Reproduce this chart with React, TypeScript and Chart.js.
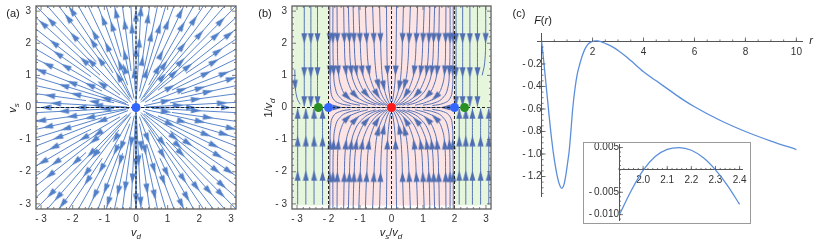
import React, { useEffect, useRef } from 'react';
import { Chart, registerables } from 'chart.js';

Chart.register(...registerables);

const FONT = "'Liberation Sans', Arial, Helvetica, sans-serif";
Chart.defaults.font.family = FONT;
const TICK_COLOR = '#333333';
const FRAME_COLOR = '#5e5e5e';
const STREAM_A = '#5180c8';
const STREAM_B = '#4f6db2';
const CURVE = '#5b8fdb';
const DASH = '#1e1e1e';

// ---------- shared frame (panels a, b) ----------
const frameMin = -3.16;
const frameMax = 3.16;
const frameTickValues = [-3, -2, -1, 0, 1, 2, 3];
const frameTickLabels = ['- 3', '- 2', '- 1', '0', '1', '2', '3'];
const frameMinorStep = 0.2;

// ---------- panel (a): radial stream lines ----------
// end points along the right edge (x = frame edge) for the first octant
const raysEdgeA = [0.16, 0.43, 0.68, 0.94, 1.2, 1.51, 1.82, 2.13, 2.44, 2.8];
// fraction of the ray where the stream line begins
const raysStartA = [0.1, 0.34, 0.08, 0.45, 0.16, 0.36, 0.09, 0.5, 0.22, 0.07];
// fractions of the ray where arrowheads sit
const raysArrowA = [[0.42, 0.86], [0.6], [0.3, 0.72], [0.64, 0.95], [0.46, 0.88], [0.7], [0.34, 0.78], [0.82], [0.52, 0.93], [0.38, 0.8]];
const diagStartA = 0.05;
const diagArrowA = [0.45, 0.85];
const axisStartA = 0.06;
const axisArrowA = [0.55, 0.9];
const octantsA = [[1, 0, 0, 1], [0, 1, 1, 0], [0, -1, 1, 0], [-1, 0, 0, 1], [-1, 0, 0, -1], [0, -1, -1, 0], [0, 1, -1, 0], [1, 0, 0, -1]];
const diagDirsA = [[1, 1], [-1, 1], [-1, -1], [1, -1]];
const axisDirsA = [[1, 0], [0, 1], [-1, 0], [0, -1]];

// ---------- panel (b) ----------
const regionEdgesB = [-3.12, -2, 2, 3.12];
const regionColorsB = ['#e6f6dc', '#fde4e4', '#e6f6dc'];
const regionTopB = 3.16;
const regionBottomB = -3.05;
const separatrixB = [-2, 2];
const fixedUB = [-2.32, -2, 0, 2, 2.32];
const fixedColorsB = ['#2a8f22', '#3366ff', '#ff1a1a', '#3366ff', '#2a8f22'];

// pink-region stream lines, upper-left quadrant, in flow order (u, 1/v_d)
const pinkCurvesTL = [
  [[-1.96, 3.16], [-1.96, 2.16], [-1.95, 1.15], [-1.93, 0.55], [-1.85, 0.27], [-1.65, 0.13], [-1.3, 0.06]],
  [[-1.86, 3.16], [-1.86, 2.16], [-1.84, 1.15], [-1.78, 0.58], [-1.63, 0.3], [-1.38, 0.15], [-1.0, 0.07]],
  [[-1.73, 3.16], [-1.72, 2.16], [-1.69, 1.15], [-1.59, 0.62], [-1.4, 0.33], [-1.12, 0.17], [-0.75, 0.07]],
  [[-1.52, 3.16], [-1.5, 2.16], [-1.45, 1.15], [-1.34, 0.68], [-1.15, 0.38], [-0.85, 0.18], [-0.5, 0.07]],
  [[-1.37, 3.16], [-1.34, 2.16], [-1.28, 1.15], [-1.16, 0.7], [-0.96, 0.4], [-0.68, 0.19], [-0.35, 0.07]],
  [[-1.22, 3.16], [-1.19, 2.16], [-1.12, 1.15], [-0.99, 0.72], [-0.8, 0.42], [-0.54, 0.2], [-0.25, 0.07]],
  [[-1.04, 3.16], [-1.0, 2.16], [-0.93, 1.15], [-0.8, 0.72], [-0.62, 0.42], [-0.4, 0.2], [-0.16, 0.06]],
  [[-0.83, 3.16], [-0.79, 2.16], [-0.72, 1.15], [-0.61, 0.72], [-0.46, 0.42], [-0.28, 0.19], [-0.1, 0.05]],
  [[-0.6, 3.16], [-0.56, 2.16], [-0.5, 1.15], [-0.42, 0.72], [-0.31, 0.4], [-0.17, 0.17], [-0.05, 0.04]],
  [[-0.38, 3.16], [-0.35, 2.16], [-0.31, 1.15], [-0.25, 0.68], [-0.16, 0.33], [-0.06, 0.1]],
  [[-0.16, 3.16], [-0.15, 2.16], [-0.13, 1.15], [-0.09, 0.6], [-0.03, 0.18]],
];
const pinkArrowsTL = [[1, 2], [1, 2], [1, 2, 4], [1, 2, 4], [1, 2], [1, 2, 4], [1, 2], [1, 2, 4], [1, 3], [1, 3], [2]];
const quadrantsB = [[1, 1], [-1, 1], [1, -1], [-1, -1]];
const axisFlowLeftB = [[-1.96, 0], [-1.72, 0], [-1.0, 0], [-0.1, 0]];
const axisFlowArrowsB = [1];
const greenTopStops = [3.16, 2.16, 1.1, 0.2, 0.04];
const greenBottomStops = [-3.02, -2.13, -1.05, -0.2, -0.04];
const greenArrowIdx = [1, 2, 3];
const greenLeftTopU = [-2.77, -2.56, -2.35];
const greenLeftBottomU = [-2.98, -2.72, -2.46, -2.19];
const greenRightTopU = [2.05, 2.26, 2.49, 2.73];
const greenRightBottomU = [2.15, 2.36, 2.57, 2.83, 3.09];
const edgeLeftTopB = [[-3.07, 1.18], [-3.06, 0.7], [-3.0, 0.3], [-2.9, 0.1]];
const edgeRightTopB = [[2.99, 3.16], [2.99, 2.16], [2.96, 1.4], [2.88, 1.0]];

// ---------- panel (c) ----------
const rMain = [0, 0.05, 0.1, 0.2, 0.3, 0.4, 0.5, 0.6, 0.7, 0.79, 0.88, 0.95, 1.02, 1.08, 1.15, 1.22, 1.31, 1.4, 1.5, 1.6, 1.7, 1.8, 1.85, 1.9, 1.95, 2.0, 2.05, 2.1, 2.15, 2.2, 2.25, 2.3, 2.35, 2.4, 2.5, 2.65, 2.8, 3.0, 3.25, 3.5, 4.0, 4.5, 5.0, 5.5, 6.0, 7.0, 8.0, 9.0, 10.0];
const fMain = [0, -0.1, -0.21, -0.44, -0.67, -0.88, -1.05, -1.18, -1.27, -1.305, -1.27, -1.19, -1.08, -0.98, -0.8, -0.6, -0.42, -0.29, -0.2, -0.125, -0.068, -0.03, -0.018, -0.0102, -0.0047, 0, 0.003, 0.0046, 0.005, 0.0044, 0.0027, 0, -0.0035, -0.0077, -0.018, -0.033, -0.05, -0.08, -0.122, -0.17, -0.27, -0.35, -0.43, -0.51, -0.58, -0.7, -0.8, -0.885, -0.96];
const cTicksX = [2, 4, 6, 8, 10];
const cTickLabelsX = ['2', '4', '6', '8', '10'];
const cTicksY = [-0.2, -0.4, -0.6, -0.8, -1.0, -1.2];
const cTickLabelsY = ['-\u20090.2', '-\u20090.4', '-\u20090.6', '-\u20090.8', '-\u20091.0', '-\u20091.2'];

const rInset = [1.9, 1.95, 2.0, 2.05, 2.1, 2.15, 2.2, 2.25, 2.3, 2.35, 2.4];
const fInset = [-0.0102, -0.0047, -0.0001, 0.003, 0.0046, 0.005, 0.0044, 0.0027, 0.0, -0.0035, -0.0077];
const insetTicksX = [2.0, 2.1, 2.2, 2.3, 2.4];
const insetTickLabelsX = ['2.0', '2.1', '2.2', '2.3', '2.4'];
const insetTicksY = [0.005, -0.005, -0.01];
const insetTickLabelsY = ['0.005', '-\u20090.005', '-\u20090.010'];

// ---------- helpers ----------
function arrowImage(color: string) {
  const c = document.createElement('canvas');
  c.width = 7;
  c.height = 11;
  const g = c.getContext('2d')!;
  g.fillStyle = color;
  g.beginPath();
  g.moveTo(3.5, 0);
  g.lineTo(6.5, 10.5);
  g.lineTo(0.5, 10.5);
  g.closePath();
  g.fill();
  return c;
}

function rotFor(dx: number, dy: number) {
  return (Math.atan2(dx, dy) * 180) / Math.PI;
}

function lineDs(pts: number[][], color: string, width: number, extra: any = {}) {
  return {
    data: pts.map((p) => ({ x: p[0], y: p[1] })),
    showLine: true,
    borderColor: color,
    borderWidth: width,
    pointRadius: 0,
    pointHoverRadius: 0,
    fill: false,
    order: 3,
    ...extra,
  };
}

function arrowDs(points: any[], img: HTMLCanvasElement) {
  return {
    data: points,
    showLine: false,
    pointStyle: img,
    pointRadius: 4,
    pointHoverRadius: 4,
    pointRotation: (ctx: any) => (ctx.raw ? ctx.raw.rot : 0),
    order: 2,
  };
}

function frameScale(axis: 'x' | 'y', size: number) {
  return {
    type: 'linear',
    min: frameMin,
    max: frameMax,
    grid: { display: false, drawTicks: false },
    border: { display: false },
    ticks: {
      color: TICK_COLOR,
      font: { family: FONT, size: 10 },
      padding: axis === 'x' ? 4 : 5,
      autoSkip: false,
      maxRotation: 0,
      callback: (_v: any, i: number) => frameTickLabels[i],
    },
    afterBuildTicks: (s: any) => {
      s.ticks = frameTickValues.map((v) => ({ value: v }));
    },
    afterFit: (s: any) => {
      if (axis === 'x') s.height = size;
      else s.width = size;
      s.paddingTop = 0;
      s.paddingBottom = 0;
      s.paddingLeft = 0;
      s.paddingRight = 0;
    },
  };
}

const framePlugin = {
  id: 'frameTicks',
  afterDatasetsDraw(chart: any) {
    const { ctx, chartArea: a, scales } = chart;
    const x = scales.x;
    const y = scales.y;
    ctx.save();
    ctx.strokeStyle = FRAME_COLOR;
    ctx.lineWidth = 1.3;
    ctx.strokeRect(a.left, a.top, a.right - a.left, a.bottom - a.top);
    ctx.lineWidth = 0.8;
    ctx.beginPath();
    const n = Math.round(3 / frameMinorStep);
    for (let k = -n; k <= n; k++) {
      const v = k * frameMinorStep;
      const len = k % 5 === 0 ? 4 : 2;
      const px = x.getPixelForValue(v);
      const py = y.getPixelForValue(v);
      ctx.moveTo(px, a.bottom);
      ctx.lineTo(px, a.bottom - len);
      ctx.moveTo(px, a.top);
      ctx.lineTo(px, a.top + len);
      ctx.moveTo(a.left, py);
      ctx.lineTo(a.left + len, py);
      ctx.moveTo(a.right, py);
      ctx.lineTo(a.right - len, py);
    }
    ctx.stroke();
    ctx.restore();
  },
};

const shadePluginB = {
  id: 'shadeB',
  beforeDatasetsDraw(chart: any) {
    const { ctx, chartArea: a, scales } = chart;
    const x = scales.x;
    const y = scales.y;
    const top = Math.max(a.top, y.getPixelForValue(regionTopB));
    const bottom = Math.min(a.bottom, y.getPixelForValue(regionBottomB));
    ctx.save();
    for (let i = 0; i < regionColorsB.length; i++) {
      const x0 = x.getPixelForValue(regionEdgesB[i]);
      const x1 = x.getPixelForValue(regionEdgesB[i + 1]);
      ctx.fillStyle = regionColorsB[i];
      ctx.fillRect(x0, top, x1 - x0, bottom - top);
    }
    ctx.restore();
  },
};

function axisTicksPlugin(spec: any) {
  return {
    id: 'axisTicks',
    afterDraw(chart: any) {
      const { ctx, scales } = chart;
      const x = scales.x;
      const y = scales.y;
      const py0 = y.getPixelForValue(0);
      const px0 = x.getPixelForValue(spec.x0);
      ctx.save();
      ctx.strokeStyle = '#555555';
      ctx.lineWidth = 0.8;
      ctx.beginPath();
      const [xa, xb, xs] = spec.xMinor;
      const nx = Math.round((xb - xa) / xs);
      for (let k = 0; k <= nx; k++) {
        const px = x.getPixelForValue(xa + k * xs);
        ctx.moveTo(px, py0);
        ctx.lineTo(px, py0 - 2);
      }
      spec.xMajor.forEach((v: number) => {
        const px = x.getPixelForValue(v);
        ctx.moveTo(px, py0);
        ctx.lineTo(px, py0 - 4);
      });
      const [ya, yb, ys] = spec.yMinor;
      const ny = Math.round((yb - ya) / ys);
      for (let k = 0; k <= ny; k++) {
        const py = y.getPixelForValue(ya + k * ys);
        ctx.moveTo(px0, py);
        ctx.lineTo(px0 + 2, py);
      }
      spec.yMajor.forEach((v: number) => {
        const py = y.getPixelForValue(v);
        ctx.moveTo(px0, py);
        ctx.lineTo(px0 + 4, py);
      });
      ctx.stroke();
      ctx.restore();
    },
  };
}

function dashedDs(pts: number[][]) {
  return lineDs(pts, DASH, 1, { borderDash: [3, 2], order: 1 });
}

// ---------- chart configs ----------
function configA() {
  const img = arrowImage(STREAM_A);
  const lines: any[] = [];
  const arrows: any[] = [];
  const addRay = (ex: number, ey: number, start: number, fr: number[]) => {
    lines.push(lineDs([[ex * start, ey * start], [ex, ey]], STREAM_A, 0.95));
    fr.forEach((f) => arrows.push({ x: ex * f, y: ey * f, rot: rotFor(ex, ey) }));
  };
  const n = raysEdgeA.length;
  octantsA.forEach((m, k) => {
    raysEdgeA.forEach((t, i) => {
      const ex = m[0] * frameMax + m[1] * t;
      const ey = m[2] * frameMax + m[3] * t;
      addRay(ex, ey, raysStartA[(i + 2 * k) % n], raysArrowA[(i + 3 * k) % n]);
    });
  });
  diagDirsA.forEach((d) => addRay(d[0] * frameMax, d[1] * frameMax, diagStartA, diagArrowA));
  axisDirsA.forEach((d) => addRay(d[0] * frameMax, d[1] * frameMax, axisStartA, axisArrowA));

  const datasets = [
    { data: [{ x: 0, y: 0 }], pointRadius: 4.5, pointBackgroundColor: '#3366ff', pointBorderWidth: 0, order: 0 },
    dashedDs([[frameMin, 0], [frameMax, 0]]),
    dashedDs([[0, frameMin], [0, frameMax]]),
    arrowDs(arrows, img),
    ...lines,
  ];
  return {
    type: 'scatter',
    data: { datasets },
    options: {
      responsive: false,
      animation: false,
      events: [],
      layout: { padding: { left: 0, top: 6, right: 9, bottom: 0 } },
      plugins: { legend: { display: false }, tooltip: { enabled: false } },
      scales: { x: frameScale('x', 35), y: frameScale('y', 36) },
    },
    plugins: [framePlugin],
  };
}

function configB() {
  const img = arrowImage(STREAM_B);
  const lines: any[] = [];
  const arrows: any[] = [];
  const addCurve = (pts: number[][], idx: number[]) => {
    lines.push(lineDs(pts, STREAM_B, 0.95, { tension: 0.45 }));
    idx.forEach((i) => {
      const p = pts[Math.max(0, i - 1)];
      const q = pts[Math.min(pts.length - 1, i + 1)];
      arrows.push({ x: pts[i][0], y: pts[i][1], rot: rotFor(q[0] - p[0], q[1] - p[1]) });
    });
  };
  quadrantsB.forEach(([mu, mw]) => {
    pinkCurvesTL.forEach((c, i) => addCurve(c.map((p) => [p[0] * mu, p[1] * mw]), pinkArrowsTL[i]));
  });
  [1, -1].forEach((mu) => addCurve(axisFlowLeftB.map((p) => [p[0] * mu, p[1]]), axisFlowArrowsB));
  const greenGroup = (us: number[], stops: number[]) =>
    us.forEach((u) => addCurve(stops.map((w) => [u, w]), greenArrowIdx));
  greenGroup(greenLeftTopU, greenTopStops);
  greenGroup(greenLeftBottomU, greenBottomStops);
  greenGroup(greenRightTopU, greenTopStops);
  greenGroup(greenRightBottomU, greenBottomStops);
  addCurve(edgeLeftTopB, [1]);
  addCurve(edgeRightTopB, [1]);

  const datasets = [
    {
      data: fixedUB.map((u) => ({ x: u, y: 0 })),
      pointRadius: 4.5,
      pointBackgroundColor: fixedColorsB,
      pointBorderWidth: 0,
      order: 0,
    },
    dashedDs([[frameMin, 0], [frameMax, 0]]),
    dashedDs([[0, frameMin], [0, frameMax]]),
    ...separatrixB.map((u) => dashedDs([[u, frameMin], [u, frameMax]])),
    arrowDs(arrows, img),
    ...lines,
  ];
  return {
    type: 'scatter',
    data: { datasets },
    options: {
      responsive: false,
      animation: false,
      events: [],
      layout: { padding: { left: 0, top: 6, right: 9, bottom: 0 } },
      plugins: { legend: { display: false }, tooltip: { enabled: false } },
      scales: { x: frameScale('x', 35), y: frameScale('y', 37) },
    },
    plugins: [shadePluginB, framePlugin],
  };
}

function posScale(min: number, max: number, pos: any, ticks: number[], labels: string[], padding: number, size: number) {
  return {
    type: 'linear',
    min,
    max,
    position: pos,
    grid: { display: false, drawTicks: false },
    border: { display: true, color: '#555555', width: 1 },
    ticks: {
      color: TICK_COLOR,
      font: { family: FONT, size },
      padding,
      autoSkip: false,
      maxRotation: 0,
      callback: (_v: any, i: number) => labels[i],
    },
    afterBuildTicks: (s: any) => {
      s.ticks = ticks.map((v) => ({ value: v }));
    },
    afterFit: (s: any) => {
      s.paddingTop = 0;
      s.paddingBottom = 0;
      s.paddingLeft = 0;
      s.paddingRight = 0;
    },
  };
}

function configC() {
  return {
    type: 'scatter',
    data: {
      datasets: [
        lineDs(rMain.map((r, i) => [r, fMain[i]]), CURVE, 1.3, { cubicInterpolationMode: 'monotone' }),
      ],
    },
    options: {
      responsive: false,
      animation: false,
      events: [],
      layout: { padding: { left: 37, top: 33, right: 28, bottom: 48 } },
      plugins: { legend: { display: false }, tooltip: { enabled: false } },
      scales: {
        x: posScale(-0.18, 10.22, { y: 0 }, cTicksX, cTickLabelsX, 5, 10),
        y: posScale(-1.373, 0.075, { x: 0 }, cTicksY, cTickLabelsY, 6, 10),
      },
    },
    plugins: [
      axisTicksPlugin({ x0: 0, xMajor: cTicksX, xMinor: [0, 10, 0.5], yMajor: cTicksY, yMinor: [-1.35, 0, 0.05] }),
    ],
  };
}

function configInset() {
  return {
    type: 'scatter',
    data: {
      datasets: [
        lineDs(rInset.map((r, i) => [r, fInset[i]]), CURVE, 1.3, { cubicInterpolationMode: 'monotone' }),
      ],
    },
    options: {
      responsive: false,
      animation: false,
      events: [],
      layout: { padding: { left: 35, top: 1, right: 8, bottom: 3 } },
      plugins: { legend: { display: false }, tooltip: { enabled: false } },
      scales: {
        x: posScale(1.9, 2.41, { y: 0 }, insetTicksX, insetTickLabelsX, 4, 10),
        y: posScale(-0.0112, 0.0058, { x: 1.9 }, insetTicksY, insetTickLabelsY, 3, 10),
      },
    },
    plugins: [
      axisTicksPlugin({ x0: 1.9, xMajor: insetTicksX, xMinor: [1.9, 2.4, 0.02], yMajor: insetTicksY, yMinor: [-0.011, 0.005, 0.001] }),
    ],
  };
}

// ---------- components ----------
function ChartCanvas({ left, top, width, height, make }: any) {
  const ref = useRef<HTMLCanvasElement>(null);
  useEffect(() => {
    const chart = new Chart(ref.current as HTMLCanvasElement, make());
    return () => chart.destroy();
  }, []);
  return (
    <canvas
      ref={ref}
      width={width}
      height={height}
      style={{ position: 'absolute', left, top, width, height, display: 'block' }}
    />
  );
}

function Label({ left, top, rotate, children }: any) {
  return (
    <div
      style={{
        position: 'absolute',
        left,
        top,
        transform: `translate(-50%, -50%)${rotate ? ' rotate(-90deg)' : ''}`,
        fontFamily: FONT,
        fontSize: 11,
        color: '#222',
        whiteSpace: 'nowrap',
        lineHeight: 1,
      }}
    >
      {children}
    </div>
  );
}

function Sub({ children }: any) {
  return <span style={{ fontSize: 8, position: 'relative', top: 3, fontStyle: 'italic' }}>{children}</span>;
}

export default function App() {
  return (
    <div style={{ position: 'absolute', left: 0, top: 0, width: 830, height: 244, background: '#fff', overflow: 'hidden' }}>
      <ChartCanvas left={0} top={0} width={245} height={244} make={configA} />
      <ChartCanvas left={255} top={0} width={245} height={244} make={configB} />
      <ChartCanvas left={500} top={0} width={330} height={244} make={configC} />
      <div
        style={{
          position: 'absolute',
          left: 583,
          top: 142,
          width: 166,
          height: 80,
          border: '1px solid #9a9a9a',
          background: '#fff',
        }}
      >
        <ChartCanvas left={0} top={0} width={166} height={80} make={configInset} />
      </div>
      <Label left={13} top={13}>(a)</Label>
      <Label left={12} top={108} rotate>
        <i>v</i>
        <Sub>s</Sub>
      </Label>
      <Label left={136} top={232}>
        <i>v</i>
        <Sub>d</Sub>
      </Label>
      <Label left={265} top={13}>(b)</Label>
      <Label left={268} top={108} rotate>
        1/<i>v</i>
        <Sub>d</Sub>
      </Label>
      <Label left={391} top={232}>
        <i>v</i>
        <Sub>s</Sub>/<i>v</i>
        <Sub>d</Sub>
      </Label>
      <Label left={519} top={13}>(c)</Label>
      <Label left={543} top={20}>
        <i>F</i>(<i>r</i>)
      </Label>
      <Label left={811} top={40}>
        <i>r</i>
      </Label>
    </div>
  );
}
